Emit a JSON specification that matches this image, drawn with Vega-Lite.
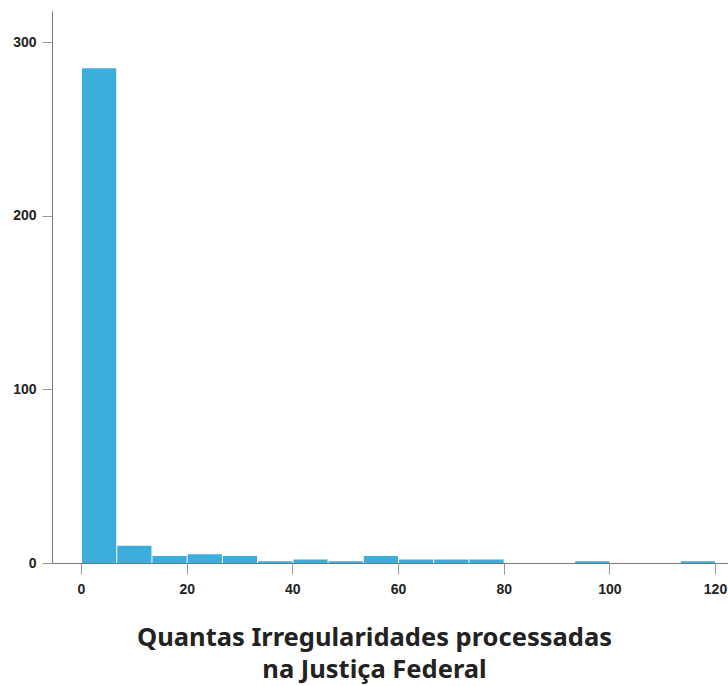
{
  "$schema": "https://vega.github.io/schema/vega-lite/v6.json",
  "width": 676,
  "height": 552,
  "autosize": {"type": "none"},
  "padding": {"left": 52, "top": 11, "right": 0, "bottom": 123},
  "background": "white",
  "config": {"view": {"stroke": null}, "bar": {"binSpacing": 1}},
  "data": {
    "values": [
      {"bin_start": 0, "bin_end": 6.6667, "count": 285},
      {"bin_start": 6.6667, "bin_end": 13.3333, "count": 10},
      {"bin_start": 13.3333, "bin_end": 20, "count": 4},
      {"bin_start": 20, "bin_end": 26.6667, "count": 5},
      {"bin_start": 26.6667, "bin_end": 33.3333, "count": 4},
      {"bin_start": 33.3333, "bin_end": 40, "count": 1},
      {"bin_start": 40, "bin_end": 46.6667, "count": 2},
      {"bin_start": 46.6667, "bin_end": 53.3333, "count": 1},
      {"bin_start": 53.3333, "bin_end": 60, "count": 4},
      {"bin_start": 60, "bin_end": 66.6667, "count": 2},
      {"bin_start": 66.6667, "bin_end": 73.3333, "count": 2},
      {"bin_start": 73.3333, "bin_end": 80, "count": 2},
      {"bin_start": 93.3333, "bin_end": 100, "count": 1},
      {"bin_start": 113.3333, "bin_end": 120, "count": 1}
    ]
  },
  "mark": {"type": "bar", "color": "#3caedc"},
  "encoding": {
    "x": {
      "field": "bin_start",
      "type": "quantitative",
      "bin": "binned",
      "scale": {"domain": [-5.49, 122.46], "nice": false, "zero": false},
      "axis": {
        "values": [0, 20, 40, 60, 80, 100, 120],
        "grid": false,
        "domainColor": "#777777",
        "domainWidth": 1,
        "tickColor": "#999999",
        "tickSize": 11,
        "labelFont": "Liberation Sans",
        "labelFontWeight": "bold",
        "labelFontSize": 14,
        "labelColor": "#222222",
        "labelPadding": 8,
        "title": ["Quantas Irregularidades processadas", "na Justiça Federal"],
        "titleFont": "Noto Sans",
        "titleFontWeight": "bold",
        "titleFontSize": 25.5,
        "titleColor": "#222222",
        "titleLineHeight": 32,
        "titleAnchor": "middle",
        "titleAlign": "center",
        "titleBaseline": "top",
        "titleX": 322,
        "titleY": 62
      }
    },
    "x2": {"field": "bin_end"},
    "y": {
      "field": "count",
      "type": "quantitative",
      "scale": {"domain": [0, 318], "nice": false},
      "axis": {
        "values": [0, 100, 200, 300],
        "grid": false,
        "domainColor": "#777777",
        "domainWidth": 1,
        "tickColor": "#999999",
        "tickSize": 10,
        "labelFont": "Liberation Sans",
        "labelFontWeight": "bold",
        "labelFontSize": 14,
        "labelColor": "#222222",
        "labelPadding": 6,
        "title": null
      }
    }
  }
}
